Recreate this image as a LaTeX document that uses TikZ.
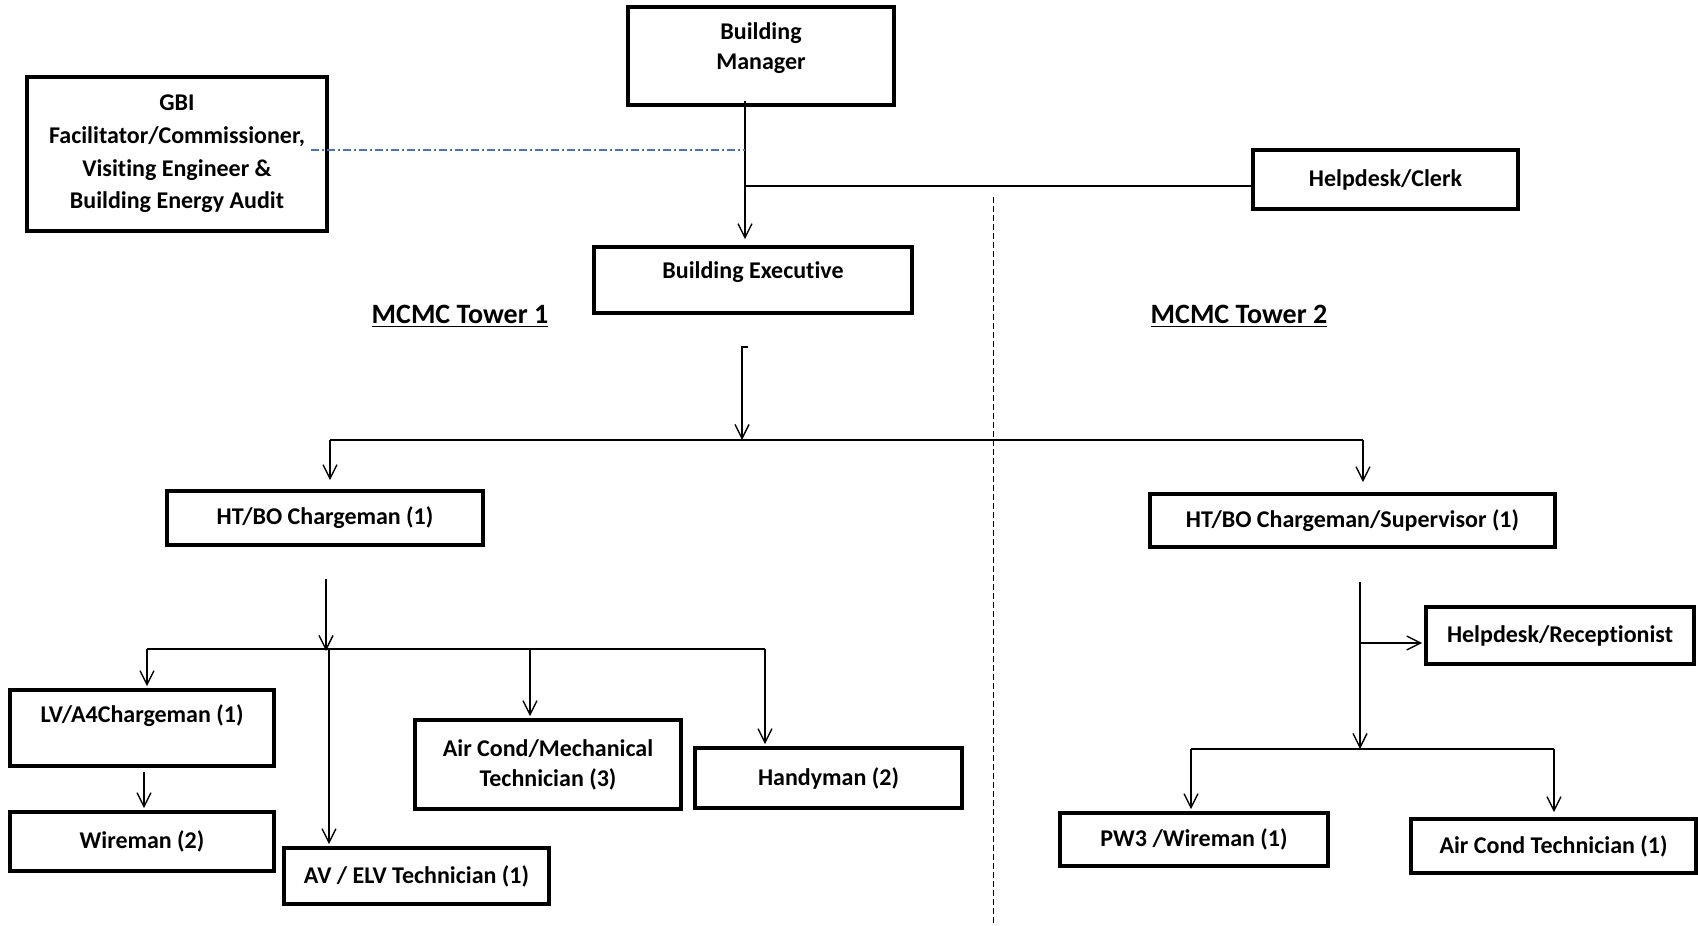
\documentclass[tikz,border=0pt]{standalone}
\usepackage{fontspec}
\setmainfont{Carlito}[Ligatures=NoCommon]
\usetikzlibrary{arrows.meta}
\definecolor{linkblue}{RGB}{68,114,196}

\begin{document}
\begin{tikzpicture}[x=0.5pt, y=-0.5pt, font=\fontsize{12}{15}\selectfont\bfseries,
    box/.style = {draw, rectangle, line width=1.8pt, align=center, inner sep=0pt},
    link/.style = {line width=0.7pt},
    advice/.style = {line width=0.6pt, linkblue, dash pattern=on 4pt off 1.5pt on 1pt off 1.5pt},
    divider/.style = {line width=0.5pt, dash pattern=on 3pt off 1.5pt},
    heading/.style = {font=\fontsize{14}{17}\selectfont\bfseries},
    >={Straight Barb[length=7pt,width=7pt]}]
    \useasboundingbox (0,0) rectangle (1698,926);

    \node[box, minimum width=133pt, minimum height=49pt, label={[align=center, yshift=4pt]center:Building\\Manager}] (mgr) at (761,56) {};
    \node[box, minimum width=150pt, minimum height=77pt, font=\fontsize{12}{16.3}\selectfont\bfseries] (gbi) at (177,154) {GBI\\Facilitator/Commissioner,\\Visiting Engineer \&\\Building Energy Audit};
    \node[box, minimum width=132.5pt, minimum height=29.5pt] (clerk) at (1385.5,179.5) {Helpdesk/Clerk};
    \node[box, minimum width=159pt, minimum height=33pt, label={[yshift=4pt]center:Building Executive}] (exec) at (753,280) {};
    \node[heading] (tower1) at (460,316) {\underline{MCMC Tower 1}};
    \node[heading] (tower2) at (1239,316) {\underline{MCMC Tower 2}};
    \node[box, minimum width=158pt, minimum height=27pt] (htbo1) at (325,518) {HT/BO Chargeman (1)};
    \node[box, minimum width=202.5pt, minimum height=26.5pt] (htbo2) at (1352.5,520.5) {HT/BO Chargeman/Supervisor (1)};
    \node[box, minimum width=132pt, minimum height=38pt, label={[yshift=6pt]center:LV/A4Chargeman (1)}] (lv) at (142,728) {};
    \node[box, minimum width=132pt, minimum height=29.5pt] (wireman) at (142,841.5) {Wireman (2)};
    \node[box, minimum width=132.5pt, minimum height=28pt] (avelv) at (416.5,876) {AV / ELV Technician (1)};
    \node[box, minimum width=133pt, minimum height=44.5pt] (aircond) at (548,764.5) {Air Cond/Mechanical\\Technician (3)};
    \node[box, minimum width=133.5pt, minimum height=30pt] (handyman) at (828.5,778) {Handyman (2)};
    \node[box, minimum width=134pt, minimum height=28.5pt] (recep) at (1560,635.5) {Helpdesk/Receptionist};
    \node[box, minimum width=134pt, minimum height=26.5pt] (pw3) at (1194,839.5) {PW3 /Wireman (1)};
    \node[box, minimum width=142.5pt, minimum height=27pt] (actech) at (1553.5,846) {Air Cond Technician (1)};

    \coordinate (m0) at (745,101);
    \coordinate (m1) at (745,150);
    \coordinate (m2) at (745,186);
    \coordinate (g0) at (311,150);
    \coordinate (e0) at (742,347);
    \coordinate (e1) at (742,440);
    \coordinate (bl) at (330,440);
    \coordinate (br) at (1363,440);
    \coordinate (h0) at (326,579);
    \coordinate (h1) at (326,651);
    \coordinate (ll) at (147,649);
    \coordinate (la) at (329,649);
    \coordinate (lc) at (530,649);
    \coordinate (lr) at (765,649);
    \coordinate (r0) at (1360,582);
    \coordinate (r1) at (1360,749);
    \coordinate (r2) at (1361,643);
    \coordinate (rl) at (1191,749);
    \coordinate (rr) at (1554,749);

    \draw[link, ->, shorten >=3pt] (m0) -- (m0 |- exec.north);
    \draw[advice] (g0) -- (m1);
    \draw[link] (m2) -- (m2 -| clerk.west);
    \draw[divider] (993,197) -- (993,926);

    \draw[link, ->] ([xshift=3pt]e0) -- (e0) -- (e1);
    \draw[link] (bl) -- (br);
    \draw[link, ->, shorten >=4.5pt] (bl) -- (bl |- htbo1.north);
    \draw[link, ->, shorten >=5pt] (br) -- (br |- htbo2.north);

    \draw[link, ->] (h0) -- (h1);
    \draw[link] (ll) -- (lr);
    \draw[link, ->, shorten >=1pt] (ll) -- (ll |- lv.north);
    \draw[link, ->, shorten >=1pt] (la) -- (la |- avelv.north);
    \draw[link, ->, shorten >=1pt] (lc) -- (lc |- aircond.north);
    \draw[link, ->, shorten >=1pt] (lr) -- (lr |- handyman.north);
    \draw[link, ->, shorten <=2pt, shorten >=1pt] ([xshift=1pt]lv.south) -- ([xshift=1pt]wireman.north);

    \draw[link, ->] (r0) -- (r1);
    \draw[link, ->, shorten >=1pt] (r2) -- (r2 -| recep.west);
    \draw[link] (rl) -- (rr);
    \draw[link, ->, shorten >=1pt] (rl) -- (rl |- pw3.north);
    \draw[link, ->, shorten >=2.5pt] (rr) -- (rr |- actech.north);
\end{tikzpicture}
\end{document}
